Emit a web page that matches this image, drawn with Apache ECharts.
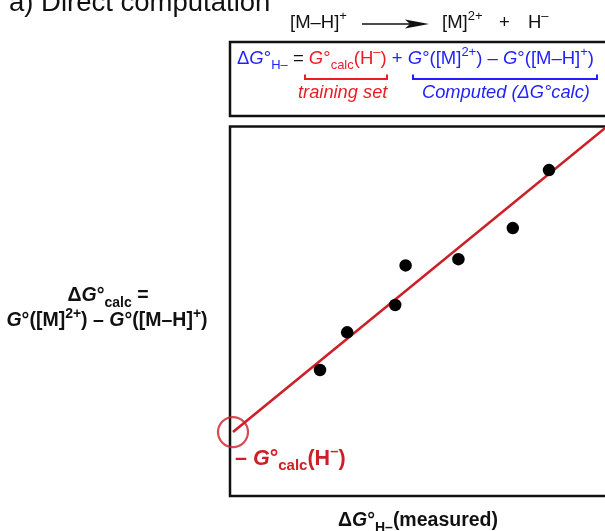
<!DOCTYPE html>
<html>
<head>
<meta charset="utf-8">
<script src="https://cdn.jsdelivr.net/npm/echarts@6/dist/echarts.min.js"></script>
<style>
html,body{margin:0;padding:0;background:#fff;}
#chart{width:605px;height:531px;}
</style>
</head>
<body>
<div id="chart"></div>
<script>
// measured ΔG°H– (x) vs computed ΔG°calc (y), arbitrary units (no ticks shown)
const measuredX = [22.5, 29.3, 41.3, 43.9, 57.1, 70.7, 79.75];
const calcY     = [34.1, 44.3, 51.7, 62.4, 64.1, 72.5, 88.2];
// linear fit line, starting at the intercept -G°calc(H–)
const fitX = [0.75, 100];
const fitY = [17.3, 105.1];
const interceptX = [0.75];
const interceptY = [17.3];
const axisMin = 0, axisMax = 100;

const FONT = '"Liberation Sans", Arial, Helvetica, sans-serif';
const RED = '#ec1c24', BLUE = '#1f1fff', DRED = '#cc1f27', BLACK = '#111';

function richSet(color, size, weight) {
  const sub = Math.round(size * 0.7);
  return {
    n:  {fill: color, fontSize: size, fontFamily: FONT, fontWeight: weight, lineHeight: size + 8, verticalAlign: 'middle'},
    i:  {fill: color, fontSize: size, fontFamily: FONT, fontWeight: weight, fontStyle: 'italic', lineHeight: size + 8, verticalAlign: 'middle'},
    sb: {fill: color, fontSize: sub, fontFamily: FONT, fontWeight: weight, verticalAlign: 'bottom'},
    sp: {fill: color, fontSize: sub, fontFamily: FONT, fontWeight: weight, verticalAlign: 'top'}
  };
}
function prefixed(p, set) {
  const o = {};
  for (const k in set) o[p + k] = set[k];
  return o;
}
const EQ = 18.5;
const eqRich = Object.assign({}, prefixed('b', richSet(BLUE, EQ, 'normal')),
  prefixed('r', richSet(RED, EQ, 'normal')), prefixed('k', richSet(BLACK, EQ, 'normal')));

function txt(x, y, text, rich, extra) {
  return {
    type: 'text', x: x, y: y, silent: true,
    style: Object.assign({text: text, rich: rich, align: 'left', verticalAlign: 'middle', fill: BLACK, font: '16px ' + FONT}, extra || {})
  };
}

const kRich = richSet(BLACK, 18.5, 'normal');
const yRich = richSet(BLACK, 19.5, 'bold');
const xRich = richSet(BLACK, 19.5, 'bold');
const dRich = richSet(DRED, 21.5, 'bold');
const tRich = {t: {fill: RED, fontSize: 18.3, fontFamily: FONT, fontStyle: 'italic'}};
const cRich = prefixed('b', richSet(BLUE, 18.3, 'normal'));
cRich.bi.fontStyle = 'italic'; cRich.bn.fontStyle = 'italic';

const chart = echarts.init(document.getElementById('chart'), null, {renderer: 'canvas'});
chart.setOption({
  animation: false,
  backgroundColor: '#fff',
  grid: {left: 230, top: 126.5, width: 400, height: 369.5, outerBoundsMode: 'none', containLabel: false,
         show: true, borderColor: '#111', borderWidth: 2.5, backgroundColor: 'transparent'},
  xAxis: {type: 'value', min: axisMin, max: axisMax, show: false},
  yAxis: {type: 'value', min: axisMin, max: axisMax, show: false},
  series: [
    {type: 'line', data: fitX.map((x, i) => [x, fitY[i]]), symbol: 'none', clip: true,
     lineStyle: {color: DRED, width: 2.6}, z: 2},
    {type: 'scatter', data: measuredX.map((x, i) => [x, calcY[i]]), symbol: 'circle', symbolSize: 12.5,
     itemStyle: {color: '#000', opacity: 1}, z: 3},
    {type: 'scatter', data: interceptX.map((x, i) => [x, interceptY[i]]), symbol: 'circle', symbolSize: 30,
     clip: false, itemStyle: {color: 'rgba(0,0,0,0)', borderColor: DRED, borderWidth: 2.2}, z: 4}
  ],
  graphic: [
    // title
    txt(9, 3.5, 'a) Direct computation', null, {font: '27.5px ' + FONT, fill: '#111'}),
    // reaction
    txt(290, 23, '{n|[M–H]}{sp|+}', kRich),
    {type: 'line', silent: true, shape: {x1: 362, y1: 24, x2: 412, y2: 24}, style: {stroke: '#111', lineWidth: 1.5}},
    {type: 'polygon', silent: true, shape: {points: [[405, 19.5], [429, 24], [405, 28.5], [410, 24]]}, style: {fill: '#111'}},
    txt(442, 23, '{n|[M]}{sp|2+}', kRich),
    txt(499, 23, '{n|+}', kRich),
    txt(528, 23, '{n|H}{sp|–}', kRich),
    // equation box
    {type: 'rect', silent: true, shape: {x: 230, y: 42, width: 400, height: 74}, style: {fill: 'none', stroke: '#111', lineWidth: 2.5}},
    txt(237, 59, '{bn|Δ}{bi|G}{bn|°}{bsb|H–}{kn| = }{ri|G}{rn|°}{rsb|calc}{rn|(H}{rsp|–}{rn|)}{bn| + }{bi|G}{bn|°([M]}{bsp|2+}{bn|) – }{bi|G}{bn|°([M–H]}{bsp|+}{bn|)}', eqRich),
    // brackets
    {type: 'polyline', silent: true, shape: {points: [[305, 74.5], [305, 79], [387, 79], [387, 74.5]]}, style: {stroke: RED, lineWidth: 2, fill: 'none'}},
    {type: 'polyline', silent: true, shape: {points: [[413, 74.5], [413, 79], [597, 79], [597, 74.5]]}, style: {stroke: BLUE, lineWidth: 2, fill: 'none'}},
    txt(298, 93, '{t|training set}', tRich),
    txt(422, 93, '{bi|Computed (ΔG°calc)}', cRich),
    // y label
    txt(108, 296, '{n|Δ}{i|G}{n|°}{sb|calc}{n| =}', yRich, {align: 'center'}),
    txt(107, 321, '{i|G}{n|°([M]}{sp|2+}{n|) – }{i|G}{n|°([M–H]}{sp|+}{n|)}', yRich, {align: 'center'}),
    // intercept label
    txt(235, 459, '{n|– }{i|G}{n|°}{sb|calc}{n|(H}{sp|–}{n|)}', dRich),
    // x label
    txt(338, 521, '{n|Δ}{i|G}{n|°}{sb|H–}{n|(measured)}', xRich)
  ]
});
</script>
</body>
</html>
